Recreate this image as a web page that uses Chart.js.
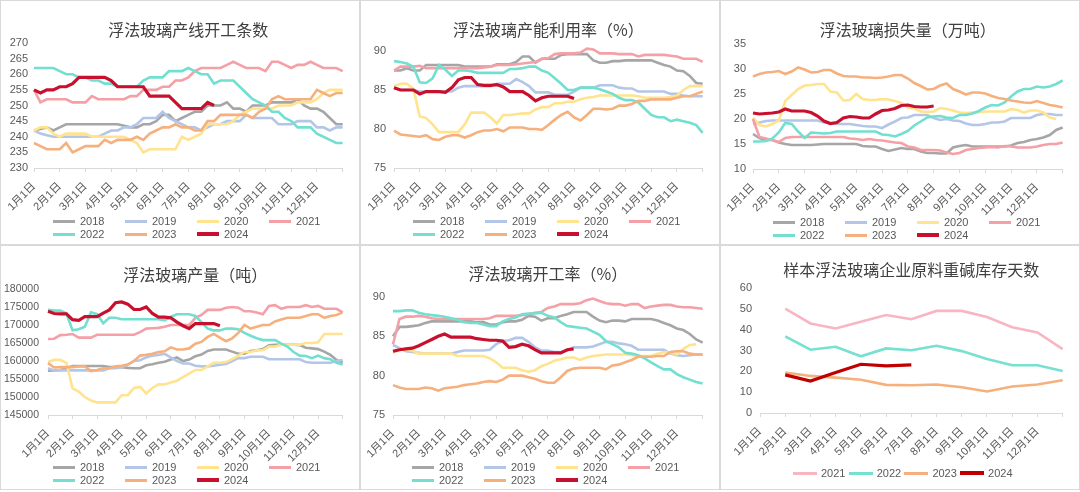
<!DOCTYPE html>
<html>
<head>
<meta charset="utf-8">
<script src="https://cdn.jsdelivr.net/npm/chart.js@4.4.1/dist/chart.umd.min.js"></script>
<style>
  body { margin: 0; background: #fff; width: 1080px; height: 492px; overflow: hidden; position: relative;
         font-family: "Liberation Sans", "Noto Sans CJK SC", sans-serif; }
  .panel { position: absolute; width: 360px; height: 245px; box-sizing: border-box; border: 1px solid #d9d9d9; background: #fff; }
  .panel canvas { position: absolute; left: -1px; top: -1px; }
  .legend { position: absolute; display: grid; font-size: 11px; color: #595959; }
  .legend .item { display: flex; align-items: center; height: 13px; white-space: nowrap; }
  .legend .swatch { display: inline-block; height: 3px; }
</style>
</head>
<body>
<div class="panel" style="left:0;top:0"><canvas id="c1" width="360" height="245"></canvas></div>
<div class="panel" style="left:360px;top:0"><canvas id="c2" width="360" height="245"></canvas></div>
<div class="panel" style="left:720px;top:0"><canvas id="c3" width="360" height="245"></canvas></div>
<div class="panel" style="left:0;top:245px"><canvas id="c4" width="360" height="245"></canvas></div>
<div class="panel" style="left:360px;top:245px"><canvas id="c5" width="360" height="245"></canvas></div>
<div class="panel" style="left:720px;top:245px"><canvas id="c6" width="360" height="245"></canvas></div>
<script>
// categories
const monthLabels = ['1月1日', '2月1日', '3月1日', '4月1日', '5月1日', '6月1日', '7月1日',
                     '8月1日', '9月1日', '10月1日', '11月1日', '12月1日', ''];
// weekly axis: 4 points per month, index 48 = year end
const weekLabels = Array.from({ length: 49 }, (_, i) => (i % 4 === 0 ? monthLabels[i / 4] : ''));

const years = ['2018', '2019', '2020', '2021', '2022', '2023', '2024'];
const sodaYears = ['2021', '2022', '2023', '2024'];

// 浮法玻璃产线开工条数
const lineCount2018 = [242,242.5,243,242,243,244,244,244,244,244, 244,244,244,244,243.5,243,243,244,244,245, 247,247,245,246,247,248,248,250,250,250, 251,249,249,248,250,250,250,251,251,251, 251,252,250,249,249,248,246,244,244];
const lineCount2019 = [242,241,240.5,240,240,240,240,240,240,240, 240,241,242,242,243,243,244,246,246,246, 248,246,245,244,243,243,242,243,244,244, 245,245,245,247,246,246,246,246,244,244, 244,245,245,245,243,243,242,243,243];
const lineCount2020 = [242,243,243,241,240,241,241,241,241,240, 240,240,240,240,240,239,238,235,236,236, 236,236,236,240,239,240,241,244,244,244, 244,245,247,248,249,249,249,249,250,250, 250,251,251,251,252,254,255,255,255];
const lineCount2021 = [255,251,252,252,252,252,251,251,251,253, 252,252,252,252,252,253,253,255,255,255, 256,256,258,258,259,261,262,262,262,262, 263,264,263,262,262,262,261,264,264,263, 262,263,263,264,263,262,262,262,261];
const lineCount2022 = [262,262,262,262,261,260,260,259,259,258, 258,257,257,256,256,256,256,258,259,259, 259,261,261,261,262,261,260,260,257,258, 258,258,256,254,252,251,250,248,248,246, 245,243,243,243,241,240,239,238,238];
const lineCount2023 = [238,237,236,236,236,238,235,236,237,237, 237,239,238,239,239,239,240,239,241,242, 243,243,244,243,243,242,242,245,245,247, 247,247,247,247,246,248,249,252,253,252, 252,252,252,252,255,254,253,254,254];
const lineCount2024 = [255,254,255,255,256,256,257,259,259,259, 259,259,258,256,256,256,256,256,253,253, 253,253,251,249,249,249,249,251,250];
const lineCountTicks = [230, 235, 240, 245, 250, 255, 260, 265, 270];

// 浮法玻璃产能利用率（%）
const capUtil2018 = [87.5,87.5,87.8,87.5,87.5,88.2,88.2,88.2,88.2,88.2, 88.2,88,88,88,88,88,88.3,88.3,88.3,88.6, 89.3,89.3,88.5,89,89,89,89.5,89.6,89.6,89.6, 89.6,88.8,88.5,88.5,88.7,88.7,88.8,88.8,88.8,88.8, 88.8,88.5,88.2,88,87.5,87.4,86.8,85.9,85.8];
const capUtil2019 = [85.3,85,85,85,84.8,84.8,84.8,84.8,84.8,84.8, 85.3,85.5,85.5,85.5,85.5,85.5,85.8,85.8,85.8,86.4, 86,85.5,84.7,84.7,84.7,84.4,84.4,84.4,84.8,85.3, 85.3,85.3,85.6,85.6,85.6,85.3,85.2,85.2,84.8,84.8, 84.8,84.8,84.8,84.5,84.5,84.3,84.2,84.2,84.2];
const capUtil2020 = [85.5,85.8,85.8,85.2,81.6,81.4,80.6,79.6,79.6,79.6, 79.6,80.6,82.1,82.1,82.1,81.5,80.7,81.8,81.8,81.9, 82,82,82.5,82.8,82.8,83.3,83.3,83.5,83.5,83.8, 84,84.1,84.3,84.3,84.3,84.3,84.3,84.3,84.2,84, 84,84,84,84.1,84.3,85,85.5,85.5,85.5];
const capUtil2021 = [87.5,88,88,88,88.1,87.8,87.8,87.8,87.8,87.8, 87.8,87.8,87.8,87.8,87.9,88,88.2,88.2,88.2,88.3, 88.4,88.5,88.6,89,89.1,89.6,89.7,89.7,89.7,89.8, 90.3,90.2,89.7,89.7,89.7,89.6,89.6,89.6,89.3,89.5, 89.5,89.5,89.5,89.4,89.3,89,89,89,88.6];
const capUtil2022 = [88.7,88.6,88.4,88,86,85.9,86.5,88.2,87.6,86.8, 87.5,87.5,87.4,87.2,87.2,87.2,87.2,87.2,87.7,87.7, 87.8,88,88,87.5,87.2,86.5,85.8,85,85,85.3, 85.3,85.3,85.1,84.8,84.5,84,83.7,83.7,83.4,82.6, 81.8,81.5,81.5,81,81.2,81,80.8,80.5,79.5];
const capUtil2023 = [79.8,79.3,79.2,79.1,79,79.2,78.7,78.6,79,79.2, 79.2,78.9,79.2,79.6,79.8,79.8,80,79.7,80.2,80.2, 80.2,80,80,79.9,80.5,81.2,81.8,82.2,81.5,81.1, 81.8,82.6,82.6,82.5,82.6,83,83,83.2,83.6,83.6, 83.8,83.8,83.8,83.8,84,84.2,84.2,84.5,84.8];
const capUtil2024 = [85.3,85,85,85,84.5,84.8,84.8,84.8,84.7,85.3, 86.3,86.6,86.6,85.7,85.6,85.6,85.7,85.4,84.8,84.8, 84.8,84.3,83.6,84,84.2,84.2,84.2,84.2,83.9];
const capUtilTicks = [75, 80, 85, 90];

// 浮法玻璃损失量（万吨）
const loss2018 = [17,16.2,15.8,15.8,15.3,15,14.8,14.8,14.8,14.8, 14.9,15,15,15,15,15,15,14.6,14.5,14.5, 14,13.6,13.9,14.2,14,14,13.5,13.2,13.2,13.1, 13.1,14.3,14.6,14.8,14.5,14.5,14.5,14.5,14.5,14.5, 14.7,15.2,15.4,15.8,16,16.3,16.8,17.8,18.3];
const loss2019 = [19,19.3,19.6,19.7,19.7,19.7,19.7,19.7,19.7,19.7, 19.7,19.3,19.1,19,19,19,18.8,18.6,18.5,18.5, 18.2,18.9,19.5,20.2,20.3,20.8,20.8,20.8,20.2,19.8, 20,19.7,19.6,19.1,18.8,18.8,19,19.3,19.3,19.5, 20.2,20.2,20.2,20.2,20.8,21,21,20.8,20.8];
const loss2020 = [20.3,18.8,18.5,19,19.7,23.6,24.8,26,26.7,26.8, 27,27,25.5,25.3,23.7,23.8,25,24,23.8,23.8, 24,23.9,23.6,23.2,22.3,22.1,21.5,21.4,21.5,22.2, 22,21.7,21.3,21.2,21.3,21.3,21.5,21.5,21.5,21.5, 22,21.8,21.3,21.7,21.7,21.3,20.3,20];
const loss2021 = [20,16.4,16.1,15.8,15.4,16.2,16.4,16.4,16.4,16.4, 16.4,16.4,16.4,16.4,16.4,16.1,16,15.8,16,15.8, 15.7,15.5,15.3,15.2,14.5,14.3,13.8,13.8,13.8,13.7, 13.3,13,13.2,13.8,14,14.2,14.3,14.4,14.3,14.6, 14.5,14.3,14.3,14.3,14.5,14.8,15,15,15.3];
const loss2022 = [15.5,15.5,15.6,16.1,17.3,19.2,19,17.5,16.2,17.3, 17.2,17.1,17.2,17.5,17.5,17.5,17.5,17.5,17.5,17.5, 16.9,16.8,16.5,17,17.6,18.7,19.5,20.3,20.5,20.6, 20.3,20.2,20.8,20.8,21.1,21.6,22.3,22.8,22.7,23.3, 24.5,25.5,26,26,26.5,26.3,26.5,27,27.7];
const loss2023 = [28.5,29,29.3,29.4,29.6,29,29.5,30.3,29.9,29.3, 29.4,29.8,29.8,29.1,28.6,28.5,28.5,28.3,28.3,28.2, 28.3,28.5,28.8,28.8,28.1,27.2,26.6,25.9,26,26.7, 27.1,26,25.5,24.9,25.3,25.3,25.1,24.6,24.2,24, 23.7,23.5,23.3,23.2,23.6,23.2,22.8,22.6,22.3];
const loss2024 = [21.2,21,21.1,21.2,21.4,22,21.6,21.6,21.6,21.3, 20.6,19.6,19.1,19.3,20.2,20.5,20.4,20.2,20.2,21, 21.7,21.8,22.1,22.7,22.8,22.5,22.4,22.4,22.6];
const lossTicks = [10, 15, 20, 25, 30, 35];

// 浮法玻璃产量（吨）
const output2018 = [157300,157400,157500,158000,158600,158600,158600,158600,158600,158600, 158300,158300,158300,158100,158000,158000,158800,159100,159500,159800, 160400,161000,160000,160400,161300,161800,162800,163200,163200,163200, 162600,162000,162000,162800,163000,163300,164400,164500,164500,164500, 164500,164400,163700,163500,163300,162600,161700,160300,159500];
const output2019 = [158000,157400,157400,157400,157400,157400,157400,157400,157400,157400, 158000,158000,158300,159000,160000,160200,161000,161500,161700,162000, 161000,160000,159300,159300,158700,158500,158500,158700,159000,159200, 160000,160800,160800,161200,161200,161200,160500,160500,160500,160500, 160500,160500,159700,159500,159500,159500,159500,160000,160300];
const output2020 = [159700,160300,160300,159500,152400,151500,150000,149000,148500,148500, 148500,148500,150500,150500,152500,152800,151000,152500,153500,153500, 154000,154500,155500,156500,157500,157500,158500,159500,159500,159700, 160500,161500,162500,162500,163000,163000,164000,164000,164500,164500, 164500,164500,165000,165000,165200,167500,167500,167500,167500];
const output2021 = [166100,166200,167200,167300,167500,166500,166500,166500,167300,167300, 167300,167300,167300,167300,167300,168000,169000,169100,169200,169500, 170000,170000,170000,170000,172000,172800,174200,174200,174200,174800, 175000,174800,173800,173800,173500,173000,175300,175500,174500,175000, 175000,175000,175500,175000,175300,174500,174500,174500,173500];
const output2022 = [174200,174000,174000,173200,168500,168800,169500,173500,173000,170500, 172000,172000,171600,171600,171600,171600,171600,171600,171600,171300, 172300,173000,173000,173000,172500,170800,169000,168500,168500,169000, 169000,168800,167800,167000,166300,165800,165800,165800,164800,164000, 162500,161500,161400,160800,161500,160800,160500,159500,159000];
const output2023 = [159400,158200,158300,158300,158300,158500,158500,157200,157500,158000, 158000,158500,158700,159000,160000,161500,161700,162000,162500,162700, 163800,163200,163200,163500,164800,165300,166700,167500,166500,165500, 166300,167800,170000,169000,169500,170000,170000,171000,171500,172000, 172000,172000,172500,173000,173000,172000,172500,172800,173500];
const output2024 = [173800,173200,173100,173100,171500,171300,172300,172300,172300,173300, 174200,176200,176400,175800,174300,174300,175000,173200,172200,172200, 172000,170800,169800,169000,170400,170400,170400,170400,169800];
const outputTicks = [145000, 150000, 155000, 160000, 165000, 170000, 175000, 180000];

// 浮法玻璃开工率（%）
const opRate2018 = [85,86.2,86.2,86.3,86.4,86.7,86.9,86.9,86.9,86.9, 86.9,86.9,86.9,86.8,86.8,86.5,86.5,86.8,86.9,86.9, 87.1,87.6,87.5,87,87.3,87.3,87.6,87.8,88.1,88.1, 88.1,87.5,87,86.8,87,87,86.9,87.2,87.2,87.2, 87.2,87,86.7,86.4,86,85.8,85.3,84.6,84.2];
const opRate2019 = [83.9,83.5,83.1,83,82.9,82.8,82.8,82.8,82.8,82.8, 83,83.2,83.2,83.2,83.2,83.3,84,84.4,84.5,84.8, 84.8,84.3,83.6,83.2,83.2,83,83,83.2,83.6,83.6, 83.6,83.7,84,84.3,84.3,84.1,84,83.8,83.3,83.3, 83.3,83.3,83.3,82.8,82.6,82.5,82.6,82.7,82.7];
const opRate2020 = [82.9,83.3,83.3,83.2,82.8,82.8,82.8,82.8,82.8,82.8, 82.5,82.5,82.5,82.5,82.5,82.2,81.7,81,81,81, 80.7,80.5,80.7,81.2,81.5,81.9,82.1,82.3,82.3,82, 82.3,82.5,82.6,82.7,82.7,82.7,82.7,82.6,82.5,82.5, 82.5,82.8,83,82.9,82.7,83.4,83.9,84];
const opRate2021 = [84,87.2,87.5,87.5,87.6,87.5,87.3,87.2,87.2,87.2, 87.2,87.2,87.2,87.2,87.2,87.3,87.6,87.6,87.6,87.6, 87.7,87.8,88,88.1,88.6,88.8,89.1,89.1,89.1,89.2, 89.6,89.8,89.5,89.2,89.1,89.1,88.9,89.1,89.1,88.6, 88.8,88.9,89,89,88.8,88.7,88.7,88.6,88.5];
const opRate2022 = [88.2,88.2,88.3,88.3,88,87.8,87.7,87.6,87.5,87.3, 87.1,86.8,86.7,86.7,86.5,86.3,86.3,86.9,87.2,87.4, 87.8,87.9,87.9,88,87.6,87.4,86.8,86.3,86.2,86.1, 86,85.6,85.2,84.4,84,83.6,82.9,82.8,82.6,82.2, 81.7,81.2,80.8,80.8,80.2,79.8,79.5,79.2,79];
const opRate2023 = [78.8,78.5,78.3,78.3,78.3,78.5,78.4,78.1,78.4,78.5, 78.6,78.8,78.9,79,79.2,79.3,79.2,79.5,80,80, 80,79.8,79.6,79.3,79.1,79.1,79.8,80.6,80.9,81, 81,81,81,80.8,81.3,81.4,81.7,82,82.4,82.4, 82.4,82.5,82.5,83,83.1,83.1,82.8,82.7,82.7];
const opRate2024 = [83.1,83.3,83.4,83.5,83.8,84.2,84.6,85,85.3,84.9, 84.9,84.9,84.9,84.7,84.6,84.5,84.5,84.4,83.6,83.7, 84,83.8,83.3,82.9,82.9,82.9,82.9,83.3,83.4];
const opRateTicks = [75, 80, 85, 90];

// 样本浮法玻璃企业原料重碱库存天数 (monthly)
const soda2021 = [null, 50.1, 43, 40.6, 43.8, 47, 45, 49, 49, 46.1, 41.2, 38.7, 30.7];
const soda2022 = [null, 36.8, 30.4, 31.8, 27.2, 31, 30.1, 32.3, 29.7, 25.9, 22.9, 22.9, 20.2];
const soda2023 = [null, 19.4, 17.8, 17, 16, 13.5, 13.3, 13.7, 12.4, 10.3, 12.7, 13.7, 15.7];
const soda2024 = [null, 18.3, 15.3, 19.4, 23.4, 22.6, 23.1];
const sodaTicks = [0, 10, 20, 30, 40, 50, 60];

const yearColors = ['#a6a6a6', '#b4c6e7', '#ffe38f', '#f4a0a6', '#72dfd0', '#f6b07e', '#c8102e'];
const sodaColors = ['#f7b6c1', '#76e0d1', '#f6b07e', '#c00000'];

const PANEL_W = 360;
const PANEL_H = 245;
const X_AXIS_H = 62;   // room for the rotated date labels

Chart.defaults.font.family = '"Liberation Sans", "Noto Sans CJK SC", sans-serif';
Chart.defaults.color = '#595959';

function drawPanel(p) {
    const canvas = document.getElementById(p.id);
    const last = p.series.length - 1;
    const datasets = p.series.map((values, i) => ({
        label: p.names[i],
        data: values,
        borderColor: p.colors[i],
        backgroundColor: p.colors[i],
        borderWidth: i === last ? 3.2 : 2.6,
        pointRadius: 0,
        pointHoverRadius: 0,
        tension: 0,
        fill: false,
        clip: false,
        order: last - i
    }));

    new Chart(canvas, {
        type: 'line',
        data: { labels: p.labels, datasets: datasets },
        options: {
            responsive: false,
            animation: false,
            events: [],
            layout: {
                padding: { top: 0, left: 0, right: PANEL_W - p.area.right, bottom: PANEL_H - p.area.bottom - X_AXIS_H }
            },
            plugins: {
                legend: { display: false },
                tooltip: { enabled: false },
                title: {
                    display: true,
                    text: p.title,
                    fullSize: false,
                    color: '#404040',
                    font: { family: '"Noto Sans CJK SC", sans-serif', size: 16, weight: 'normal' },
                    padding: { top: p.titleY - 9.6, bottom: p.area.top - p.titleY - 9.6 }
                }
            },
            scales: {
                x: {
                    grid: { display: true, drawOnChartArea: false, drawTicks: true, tickLength: 4, color: '#d9d9d9' },
                    border: { display: true, color: '#d9d9d9', width: 1 },
                    ticks: {
                        autoSkip: false,
                        minRotation: 45,
                        maxRotation: 45,
                        padding: 8,
                        font: { size: 11 },
                        callback: function(value, index) {
                            return index % p.step === 0 ? this.getLabelForValue(value) : null;
                        }
                    },
                    afterFit: function(scale) { scale.height = X_AXIS_H; }
                },
                y: {
                    min: p.ticks[0],
                    max: p.ticks[p.ticks.length - 1],
                    grid: { display: false, drawTicks: false },
                    border: { display: false },
                    ticks: {
                        autoSkip: false,
                        includeBounds: true,
                        stepSize: p.ticks[1] - p.ticks[0],
                        padding: p.yPad,
                        font: { size: p.yFont },
                        callback: function(v) { return String(v); }
                    },
                    afterFit: function(scale) { scale.width = p.area.left; }
                }
            }
        }
    });

    // legend below the plot, laid out in fixed columns
    const box = document.createElement('div');
    box.className = 'legend';
    box.style.left = (p.legend.left - 1) + 'px';
    box.style.top = (p.legend.top - 1) + 'px';
    box.style.gridTemplateColumns = 'repeat(' + p.legend.cols + ', ' + p.legend.pitch + 'px)';
    p.names.forEach(function(name, i) {
        const item = document.createElement('div');
        item.className = 'item';
        const sw = document.createElement('span');
        sw.className = 'swatch';
        sw.style.background = p.colors[i];
        sw.style.width = p.legend.swatch + 'px';
        sw.style.marginRight = p.legend.gap + 'px';
        if (i === last) sw.style.height = '4px';
        const txt = document.createElement('span');
        txt.textContent = name;
        item.append(sw, txt);
        box.append(item);
    });
    canvas.parentElement.append(box);
}

const weeklyLegend = { left: 53, top: 214.5, cols: 4, pitch: 72, swatch: 22, gap: 5 };

const panels = [
    { id: 'c1', title: '浮法玻璃产线开工条数', labels: weekLabels, step: 4, names: years, colors: yearColors,
      series: [lineCount2018, lineCount2019, lineCount2020, lineCount2021, lineCount2022, lineCount2023, lineCount2024],
      ticks: lineCountTicks, area: { left: 34, right: 350, top: 43, bottom: 168 }, titleY: 30, yPad: 6, yFont: 11,
      legend: weeklyLegend },
    { id: 'c2', title: '浮法玻璃产能利用率（%）', labels: weekLabels, step: 4, names: years, colors: yearColors,
      series: [capUtil2018, capUtil2019, capUtil2020, capUtil2021, capUtil2022, capUtil2023, capUtil2024],
      ticks: capUtilTicks, area: { left: 34, right: 350, top: 51, bottom: 168 }, titleY: 30, yPad: 8, yFont: 11,
      legend: weeklyLegend },
    { id: 'c3', title: '浮法玻璃损失量（万吨）', labels: weekLabels, step: 4, names: years, colors: yearColors,
      series: [loss2018, loss2019, loss2020, loss2021, loss2022, loss2023, loss2024],
      ticks: lossTicks, area: { left: 33, right: 349, top: 44, bottom: 169 }, titleY: 30, yPad: 7, yFont: 11,
      legend: Object.assign({}, weeklyLegend, { top: 215.5 }) },
    { id: 'c4', title: '浮法玻璃产量（吨）', labels: weekLabels, step: 4, names: years, colors: yearColors,
      series: [output2018, output2019, output2020, output2021, output2022, output2023, output2024],
      ticks: outputTicks, area: { left: 48, right: 356, top: 44, bottom: 170 }, titleY: 30, yPad: 9, yFont: 10.5,
      legend: Object.assign({}, weeklyLegend, { top: 215.5 }) },
    { id: 'c5', title: '浮法玻璃开工率（%）', labels: weekLabels, step: 4, names: years, colors: yearColors,
      series: [opRate2018, opRate2019, opRate2020, opRate2021, opRate2022, opRate2023, opRate2024],
      ticks: opRateTicks, area: { left: 33, right: 349, top: 52, bottom: 170 }, titleY: 29, yPad: 8, yFont: 11,
      legend: Object.assign({}, weeklyLegend, { left: 52, top: 215.5 }) },
    { id: 'c6', title: '样本浮法玻璃企业原料重碱库存天数', labels: monthLabels, step: 1, names: sodaYears, colors: sodaColors,
      series: [soda2021, soda2022, soda2023, soda2024],
      ticks: sodaTicks, area: { left: 40, right: 357, top: 43, bottom: 168 }, titleY: 25, yPad: 8, yFont: 11,
      legend: { left: 73, top: 221.5, cols: 4, pitch: 55.7, swatch: 24, gap: 4 } }
];

panels.forEach(drawPanel);
</script>
</body>
</html>
